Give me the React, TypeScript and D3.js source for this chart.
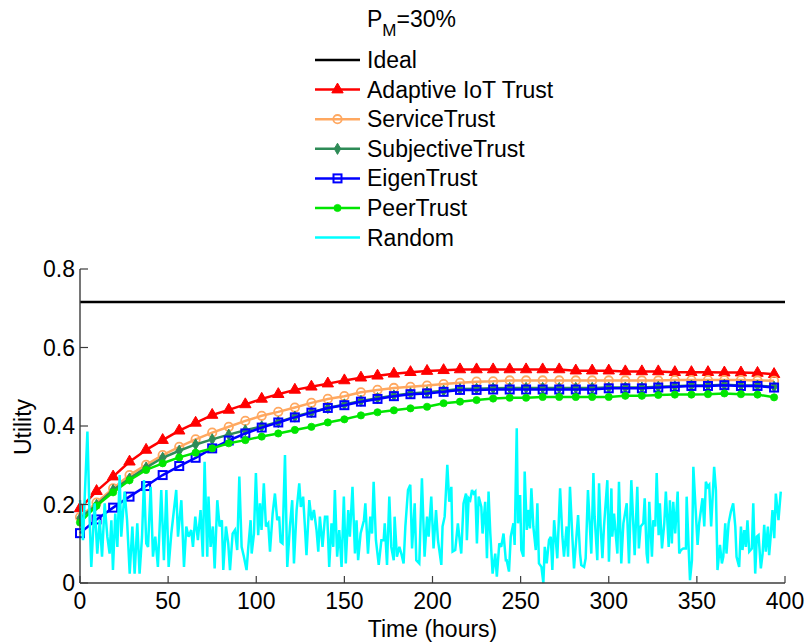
import React from "react";
import * as d3 from "d3";

const TIMES = [0, 9.4, 18.8, 28.1, 37.5, 46.9, 56.3, 65.6, 75, 84.4, 93.8, 103.1, 112.5, 121.9, 131.3, 140.6, 150, 159.4, 168.8, 178.1, 187.5, 196.9, 206.3, 215.6, 225, 234.4, 243.8, 253.1, 262.5, 271.9, 281.3, 290.6, 300, 309.4, 318.8, 328.1, 337.5, 346.9, 356.3, 365.6, 375, 384.4, 393.8];

const IDEAL = 0.716;

const ADAPTIVE = [0.19, 0.234, 0.271, 0.309, 0.339, 0.364, 0.388, 0.408, 0.428, 0.441, 0.455, 0.469, 0.481, 0.492, 0.5, 0.508, 0.516, 0.523, 0.528, 0.533, 0.537, 0.54, 0.542, 0.544, 0.544, 0.544, 0.544, 0.544, 0.544, 0.544, 0.541, 0.541, 0.541, 0.539, 0.539, 0.539, 0.537, 0.537, 0.537, 0.536, 0.536, 0.535, 0.532];
const SERVICE = [0.168, 0.205, 0.241, 0.275, 0.301, 0.326, 0.347, 0.366, 0.383, 0.398, 0.413, 0.426, 0.436, 0.447, 0.459, 0.469, 0.476, 0.486, 0.492, 0.497, 0.5, 0.503, 0.507, 0.51, 0.513, 0.514, 0.516, 0.516, 0.516, 0.516, 0.516, 0.516, 0.516, 0.516, 0.516, 0.516, 0.517, 0.517, 0.517, 0.517, 0.517, 0.516, 0.515];
const SUBJECTIVE = [0.165, 0.199, 0.237, 0.266, 0.294, 0.319, 0.337, 0.353, 0.366, 0.378, 0.389, 0.399, 0.41, 0.424, 0.435, 0.446, 0.455, 0.464, 0.471, 0.478, 0.483, 0.486, 0.49, 0.494, 0.495, 0.496, 0.497, 0.497, 0.497, 0.497, 0.497, 0.497, 0.498, 0.498, 0.498, 0.5, 0.501, 0.503, 0.503, 0.505, 0.503, 0.503, 0.5];
const EIGEN = [0.127, 0.162, 0.192, 0.22, 0.247, 0.275, 0.298, 0.319, 0.343, 0.363, 0.381, 0.396, 0.409, 0.422, 0.434, 0.446, 0.453, 0.462, 0.469, 0.476, 0.481, 0.483, 0.487, 0.492, 0.492, 0.493, 0.493, 0.493, 0.493, 0.493, 0.493, 0.493, 0.496, 0.496, 0.496, 0.498, 0.5, 0.502, 0.502, 0.504, 0.502, 0.502, 0.498];
const PEER = [0.154, 0.197, 0.231, 0.262, 0.288, 0.305, 0.32, 0.332, 0.343, 0.356, 0.364, 0.373, 0.381, 0.39, 0.398, 0.409, 0.417, 0.427, 0.435, 0.44, 0.445, 0.449, 0.458, 0.462, 0.466, 0.47, 0.472, 0.472, 0.474, 0.474, 0.474, 0.474, 0.474, 0.477, 0.477, 0.479, 0.48, 0.48, 0.481, 0.483, 0.481, 0.48, 0.473];

const RANDOM: [number, number][] = [
  [0, .211], [1.7, .109], [4.2, .386], [5.5, .160], [6.4, .041], [8.3, .203], [9.8, .075], [11.2, .160], [12.5, .067], [14, .203], [15.5, .118], [16.8, .075], [17.8, .160], [18.7, .033], [20, .177], [21.2, .092], [22.5, .275], [23.4, .118], [25.3, .233], [26.7, .160], [28.2, .024], [29.7, .144], [31, .024], [32.5, .152], [33.8, .024], [35.2, .118], [36.3, .262], [37.6, .101], [38.6, .092], [40.1, .245], [41.4, .067], [42.7, .118], [44.2, .041], [46.1, .237], [47.6, .058], [49, .237], [50.3, .041], [51.8, .126], [53.3, .186], [54.6, .237], [55.6, .118], [57.5, .211], [59, .041], [60.3, .144], [61.6, .118], [63.1, .135], [64.1, .092], [65.4, .169], [66.9, .109], [68.4, .186], [69.7, .067], [70.7, .309], [72.2, .067], [72.9, .220], [74.1, .092], [75.4, .144], [76.4, .037], [77.9, .211], [79.2, .144], [80.5, .160],
  [81.3, .033], [82.8, .144], [84.1, .101], [85.1, .033], [86.6, .126], [87.9, .135], [89.2, .084], [90.4, .271], [91.7, .092], [93, .067], [94.5, .033], [95.5, .092], [96.8, .160], [97.4, .075], [98.7, .126], [99.8, .280], [101.1, .122], [102.1, .203], [103, .135], [104.3, .254], [105.5, .144], [106.8, .152], [107.8, .080], [109.3, .177], [110.6, .228], [111.9, .160], [113, .169], [113.8, .105], [114.9, .101], [116.3, .326], [117.6, .041], [119.1, .144], [120.4, .211], [121.4, .050], [122.9, .186], [124.4, .254], [125.3, .194], [126.6, .220], [127.6, .144], [128.5, .071], [130.1, .211], [131.4, .160], [132.7, .186], [134.2, .135], [135.2, .080], [136.1, .169], [137.6, .092], [139, .169], [140.3, .169], [141.4, .041], [142.7, .152], [143.7, .092], [144.6, .237], [145.9, .067], [147.1, .135], [148.4, .041], [149.7, .220], [150.8, .050], [152.2, .186], [153.1, .118], [154.6, .245], [156, .075], [156.9, .160], [157.8, .058], [159.2, .126], [161.1, .160],
  [161.9, .203], [163.4, .075], [164.7, .169], [165.7, .126], [166.6, .258], [167.9, .109], [169.5, .046], [171, .109], [172.3, .109], [172.9, .152], [174.2, .046], [175.5, .220], [176.6, .092], [178, .058], [178.5, .169], [179.8, .067], [181.2, .092], [182.3, .075], [183.6, .050], [184.6, .144], [186.1, .237], [187.4, .250], [188.4, .088], [189.9, .203], [190.8, .058], [192.5, .050], [194, .267], [195.5, .067], [196.9, .169], [197.8, .118], [199.3, .220], [200.6, .088], [202, .186], [203.1, .109], [205, .046], [205.7, .144], [206.9, .169], [208.4, .301], [209.5, .207], [210.7, .245], [211.4, .080], [212.9, .084], [214.4, .152], [215.2, .118], [216.3, .075], [217.6, .203], [219, .228], [219.5, .109], [220.5, .216], [221.4, .211], [222.4, .237], [223.3, .228], [224.3, .233], [225.2, .101], [226.2, .220], [227.7, .194], [228.4, .126], [229.9, .207], [230.9, .063], [231.8, .233], [232.8, .126], [234.1, .024], [235.6, .075], [236.5, .016], [237.9, .101], [239, .092], [240.3, .126], [241.6, .058],
  [242.1, .058], [243.4, .029], [244.4, .118], [245.9, .152], [246.6, .097], [247.8, .394], [248.5, .152], [249.7, .224], [250.4, .084], [251.6, .067], [252.3, .284], [253.5, .135], [254.2, .186], [255.3, .139], [256.1, .241], [257.2, .144], [258.6, .084], [259.5, .203], [260.4, .050], [261.8, .041], [262.9, .000], [263.7, .092], [264.8, .050], [266.1, .109], [267.1, .118], [268, .033], [269, .160], [270.8, .063], [272.4, .241], [273.7, .118], [274.6, .067], [276.1, .144], [276.9, .067], [278, .245], [279.3, .122], [280.3, .037], [281.8, .126], [282.6, .173], [283.7, .075], [284.4, .046], [286, .041], [286.9, .063], [288.2, .237], [290.1, .075], [291.3, .280], [292, .169], [293.5, .058], [294.5, .254], [295.4, .144], [296.4, .063], [297.3, .144], [299.2, .262], [300.1, .054], [301.5, .241], [302, .118], [303, .177], [304.9, .075], [305.8, .258], [307.1, .050], [308.3, .152], [310.2, .203], [311.5, .050], [312.8, .262], [313.4, .203], [314.7, .071], [316.2, .245], [317.1, .088], [318.1, .144], [319.6, .152], [320.4, .216], [321.5, .075], [322.2, .050],
  [323, .207], [324.5, .067], [325.3, .160], [326.4, .144], [327.2, .280], [328.3, .122], [329, .203], [330.2, .088], [331.5, .152], [332.4, .233], [334, .092], [334.7, .211], [335.8, .101], [336.6, .207], [337.7, .126], [339.1, .233], [340, .075], [341, .084], [342.3, .088], [343.8, .088], [344.2, .220], [345.3, .092], [346.1, .007], [347.2, .058], [348, .296], [349.1, .203], [350.4, .097], [351.3, .152], [352.3, .186], [353.2, .216], [354.2, .144], [355.1, .258], [356.1, .245], [357, .250], [358.1, .144], [359.8, .296], [360.8, .237], [361.7, .033], [363.1, .097], [364.2, .050], [365, .067], [366.1, .152], [366.8, .075], [368, .152], [369.3, .182], [370.6, .203], [371.8, .144], [372.5, .067], [374, .041], [375, .144], [375.9, .084], [376.9, .135], [377.8, .092], [378.7, .160], [379.7, .080], [381.2, .088], [382, .203], [383.1, .024], [384, .118], [385, .122], [386.3, .037], [387.3, .075], [388.2, .148], [389.1, .080], [390.3, .144], [391, .071], [392, .126], [392.9, .186], [393.9, .114], [394.8, .228], [396.3, .160], [397.6, .233]
];

const X_TICKS = [0, 50, 100, 150, 200, 250, 300, 350, 400];
const Y_TICKS = [0, 0.2, 0.4, 0.6, 0.8];
const LEGEND_LABELS = ["Ideal", "Adaptive IoT Trust", "ServiceTrust", "SubjectiveTrust", "EigenTrust", "PeerTrust", "Random"];

const FONT = "Arial, 'Liberation Sans', Helvetica, sans-serif";
const FS = 23;

type MarkerKind = "none" | "triangle" | "circleOpen" | "diamond" | "squareOpen" | "dot";

function Marker({ kind, x, y, color }: { kind: MarkerKind; x: number; y: number; color: string }) {
  if (kind === "triangle") {
    const p = d3.symbol().type(d3.symbolTriangle).size(56)();
    return <path d={p || ""} transform={`translate(${x},${y})`} fill={color} stroke={color} strokeWidth={1} />;
  }
  if (kind === "circleOpen") {
    return <circle cx={x} cy={y} r={4.2} fill="none" stroke={color} strokeWidth={1.8} />;
  }
  if (kind === "diamond") {
    const p = d3.symbol().type(d3.symbolDiamond).size(36)();
    return <path d={p || ""} transform={`translate(${x},${y})`} fill={color} stroke={color} strokeWidth={1} />;
  }
  if (kind === "squareOpen") {
    return <rect x={x - 4} y={y - 4} width={8} height={8} fill="none" stroke={color} strokeWidth={2} />;
  }
  if (kind === "dot") {
    return <circle cx={x} cy={y} r={3.6} fill={color} stroke={color} strokeWidth={0.8} />;
  }
  return null;
}

export default function App() {
  const W = 806, H = 644;
  const x = d3.scaleLinear().domain([0, 400]).range([80, 785]);
  const y = d3.scaleLinear().domain([0, 0.8]).range([583, 269]);
  const fmt = d3.format("~g");

  const series = [
    { name: LEGEND_LABELS[1], data: ADAPTIVE, color: "#ff0000", marker: "triangle" as MarkerKind },
    { name: LEGEND_LABELS[2], data: SERVICE, color: "#ffa860", marker: "circleOpen" as MarkerKind },
    { name: LEGEND_LABELS[3], data: SUBJECTIVE, color: "#2e8b57", marker: "diamond" as MarkerKind },
    { name: LEGEND_LABELS[4], data: EIGEN, color: "#0000ff", marker: "squareOpen" as MarkerKind },
    { name: LEGEND_LABELS[5], data: PEER, color: "#00e600", marker: "dot" as MarkerKind },
  ];

  const line = d3.line<number>().x((_, i) => x(TIMES[i])).y((d) => y(d));
  const randLine = d3.line<[number, number]>().x((d) => x(d[0])).y((d) => y(d[1]));

  const legendItems: { label: string; color: string; marker: MarkerKind; width: number }[] = [
    { label: LEGEND_LABELS[0], color: "#000000", marker: "none", width: 2.6 },
    ...series.map((s) => ({ label: s.name, color: s.color, marker: s.marker, width: 2.5 })),
    { label: LEGEND_LABELS[6], color: "#00ffff", marker: "none", width: 2.5 },
  ];

  const axisColor = "#3c3c3c";

  return (
    <svg width={W} height={H} style={{ position: "absolute", left: 0, top: 0, background: "#fff" }} fontFamily={FONT}>
      <rect x={0} y={0} width={W} height={H} fill="#fff" />

      <line x1={x(0)} x2={x(400)} y1={y(IDEAL)} y2={y(IDEAL)} stroke="#000" strokeWidth={2.6} />

      {series.map((s) => (
        <g key={s.name}>
          <path d={line(s.data) || ""} fill="none" stroke={s.color} strokeWidth={2.5} strokeLinejoin="round" />
          {s.data.map((v, i) => (
            <Marker key={i} kind={s.marker} x={x(TIMES[i])} y={y(v)} color={s.color} />
          ))}
        </g>
      ))}

      <path d={randLine(RANDOM) || ""} fill="none" stroke="#00ffff" strokeWidth={2.5} strokeLinejoin="miter" strokeMiterlimit={3} />

      <line x1={x(0)} x2={x(0)} y1={y(0)} y2={y(0.8)} stroke={axisColor} strokeWidth={1.4} />
      <line x1={x(0)} x2={x(400)} y1={y(0)} y2={y(0)} stroke={axisColor} strokeWidth={1.4} />
      {Y_TICKS.map((t) => (
        <g key={"y" + t}>
          <line x1={x(0)} x2={x(0) + 8} y1={y(t)} y2={y(t)} stroke={axisColor} strokeWidth={1.2} />
          <text x={x(0) - 5} y={y(t) + 8} textAnchor="end" fontSize={FS} fill="#000">{fmt(t)}</text>
        </g>
      ))}
      {X_TICKS.map((t) => (
        <g key={"x" + t}>
          <line x1={x(t)} x2={x(t)} y1={y(0)} y2={y(0) - 7} stroke={axisColor} strokeWidth={1.2} />
          <text x={x(t)} y={609} textAnchor="middle" fontSize={FS} fill="#000">{fmt(t)}</text>
        </g>
      ))}
      <text x={432.5} y={637} textAnchor="middle" fontSize={FS} fill="#000">Time (hours)</text>
      <text transform={`translate(31,${427}) rotate(-90)`} textAnchor="middle" fontSize={FS} fill="#000">Utility</text>

      <text x={367} y={27} fontSize={FS} fill="#000">
        P<tspan fontSize={17} dy={9}>M</tspan><tspan dy={-9}>=30%</tspan>
      </text>
      {legendItems.map((it, i) => {
        const cy = 60 + i * 29.6;
        return (
          <g key={it.label}>
            <line x1={315} x2={360} y1={cy} y2={cy} stroke={it.color} strokeWidth={it.width} />
            <Marker kind={it.marker} x={337.5} y={cy} color={it.color} />
            <text x={367} y={cy + 8} fontSize={FS} fill="#000">{it.label}</text>
          </g>
        );
      })}
    </svg>
  );
}
